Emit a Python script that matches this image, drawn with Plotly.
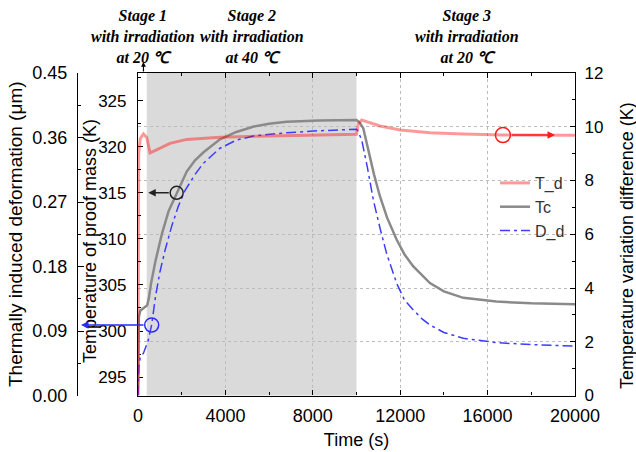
import plotly.graph_objects as go

# ---- data -------------------------------------------------------------
# T_d : temperature variation difference (K), right axis
td_time = [0, 15, 30, 100, 250, 400, 550, 800, 1200, 1465, 2230, 3750, 6000, 8000, 10000,
           10080, 10238, 10500, 11075, 12000, 13360, 14890, 16700, 20000]
td_vals = [0.0, 5.0, 9.0, 9.55, 9.73, 9.6, 9.03, 9.12, 9.28, 9.38, 9.53, 9.61, 9.66, 9.69, 9.72,
           10.1, 10.25, 10.18, 10.03, 9.88, 9.78, 9.73, 9.69, 9.68]

# Tc : temperature of proof mass (K), inner left axis
tc_time = [0, 40, 100, 250, 420, 500, 600, 800, 1100, 1400, 1770, 2230, 2600, 3000, 3750,
           4500, 5300, 6000, 6800, 8300, 10000,
           10150, 10310, 10540, 10800, 11075, 11400, 11840, 12200, 12600, 13000, 13360,
           14000, 14890, 16400, 18000, 20000]
tc_vals = [293.0, 301.5, 302.2, 302.5, 302.8, 303.6, 305.2, 307.6, 310.6, 313.0, 315.0, 317.3,
           318.5, 319.4, 320.8, 321.6, 322.2, 322.5, 322.7, 322.85, 322.9,
           322.6, 322.0, 319.6, 317.0, 314.6, 312.3, 309.9, 308.3, 307.0, 306.0, 305.2,
           304.3, 303.6, 303.2, 303.0, 302.9]

# D_d : thermally induced deformation (um), outer left axis
dd_time = [0, 40, 100, 250, 470, 627, 800, 1000, 1250, 1540, 1845, 2150, 2600, 2990, 3750,
           4515, 5280, 6800, 8330, 10000,
           10050, 10240, 10500, 10770, 11080, 11380, 11840, 12200, 12600, 13000, 13360,
           14000, 14890, 16420, 18000, 20000]
dd_vals = [0.0, 0.040, 0.053, 0.059, 0.077, 0.099, 0.138, 0.172, 0.204, 0.236, 0.264, 0.286,
           0.308, 0.324, 0.345, 0.3565, 0.362, 0.3667, 0.3695, 0.3714,
           0.370, 0.3565, 0.318, 0.273, 0.233, 0.198, 0.1565, 0.133, 0.1193, 0.107, 0.0984,
           0.088, 0.0798, 0.0737, 0.071, 0.069]

# heated (40 C) stage window, s
stage2_window = [400, 10000]
stage_texts = ["Stage 1<br>with irradiation<br>at 20 ℃",
               "Stage 2<br>with irradiation<br>at 40 ℃",
               "Stage 3<br>with irradiation<br>at 20 ℃"]

x_ticks = [0, 4000, 8000, 12000, 16000, 20000]
dd_ticks = [0.0, 0.09, 0.18, 0.27, 0.36, 0.45]

# marker circles: (time, value) on the axis each series belongs to
tc_mark = (1770, 315.0)
dd_mark = (627, 0.0984)
td_mark = (16700, 9.69)

# ---- layout geometry --------------------------------------------------
W, H = 636, 452
X0, X1 = 138 / W, 575 / W
Y0, Y1 = 1 - 395.5 / H, 1 - 73 / H

SANS = "Liberation Sans, Arial, sans-serif"
SERIF = "Liberation Serif, Times New Roman, serif"

fig = go.Figure()
fig.add_trace(go.Scatter(x=td_time, y=td_vals, name="T_d", yaxis="y3", mode="lines",
                         line=dict(color="rgba(255,0,0,0.4)", width=3)))
fig.add_trace(go.Scatter(x=tc_time, y=tc_vals, name="Tc", yaxis="y", mode="lines",
                         line=dict(color="#8a8a8a", width=2.5)))
fig.add_trace(go.Scatter(x=dd_time, y=dd_vals, name="D_d", yaxis="y2", mode="lines",
                         line=dict(color="#3c3cff", width=1.5, dash="10px,4px,3px,4px")))

axis_common = dict(showline=True, linecolor="black", linewidth=1.2, zeroline=False,
                   tickcolor="black", ticks="inside", automargin=False)

fig.update_layout(
    width=W, height=H, margin=dict(l=0, r=0, t=0, b=0, autoexpand=False),
    paper_bgcolor="white", plot_bgcolor="white",
    font=dict(family=SANS, size=18, color="black"),
    showlegend=True,
    legend=dict(x=495 / W, y=1 - 166 / H, xanchor="left", yanchor="top",
                bgcolor="rgba(0,0,0,0)", font=dict(size=16, color="#333333"),
                tracegroupgap=0),
    xaxis=dict(domain=[X0, X1], range=[0, 20000], tickvals=x_ticks, tickformat="d", ticklen=5,
               mirror="ticks", showgrid=True, gridcolor="#bcbcbc", griddash="dot",
               gridwidth=1, tickfont=dict(size=18), ticklabelstandoff=4,
               minor=dict(dtick=2000, tick0=0, ticks="inside", ticklen=3,
                          tickcolor="black", showgrid=False),
               title=dict(text="Time (s)", font=dict(size=18), standoff=8),
               **axis_common),
    yaxis=dict(domain=[Y0, Y1], range=[293, 328], dtick=5, tick0=0, ticklen=5,
               side="left", showgrid=False, tickfont=dict(size=17), ticklabelstandoff=7,
               layer="below traces",
               minor=dict(dtick=2.5, tick0=0, ticks="inside", ticklen=3, tickcolor="black"),
               **axis_common),
    yaxis2=dict(overlaying="y", anchor="free", position=77 / W, side="left",
                range=[0, 0.45], tickvals=dd_ticks, tickformat=".2f", ticklen=6,
                showgrid=False, tickfont=dict(size=18), ticklabelstandoff=6,
                minor=dict(dtick=0.045, tick0=0, ticks="inside", ticklen=3, tickcolor="black"),
                title=dict(text="Thermally induced deformation (μm)", font=dict(size=19),
                           standoff=3),
                **axis_common),
    yaxis3=dict(overlaying="y", anchor="x", side="right", range=[0, 12], dtick=2, tick0=0,
                ticklen=5, showgrid=True, gridcolor="#bcbcbc", griddash="dot", gridwidth=1,
                tickfont=dict(size=17), ticklabelstandoff=5,
                minor=dict(dtick=1, tick0=0, ticks="inside", ticklen=3, tickcolor="black",
                           showgrid=False),
                **axis_common),
)

# shaded 40 C stage
fig.add_shape(type="rect", xref="x", yref="y domain", x0=stage2_window[0], x1=stage2_window[1],
              y0=0, y1=1, fillcolor="#dadada", line=dict(width=0), layer="below")

# axis titles placed by hand (the inner one sits over its own tick labels)
fig.add_annotation(text="Temperature of proof mass (K)", textangle=-90, xref="paper", yref="paper",
                   x=90 / W, y=1 - 241 / H, showarrow=False, font=dict(size=18),
                   xanchor="center", yanchor="middle")
fig.add_annotation(text="Temperature variation difference (K)", textangle=-90,
                   xref="paper", yref="paper", x=627 / W, y=1 - 246 / H, showarrow=False,
                   font=dict(size=18), xanchor="center", yanchor="middle")

# stage captions
for txt, xp in zip(stage_texts, [143, 252, 466.7]):
    fig.add_annotation(text="<b><i>" + txt + "</i></b>", xref="paper", yref="paper",
                       x=xp / W, y=1 - 36.5 / H, showarrow=False, align="center",
                       font=dict(family=SERIF, size=16, color="black"),
                       xanchor="center", yanchor="middle")

# small arrow marking the start of stage 1
fig.add_annotation(text="", xref="x", yref="paper", x=250, y=1 - 62 / H, ax=0, ay=11,
                   showarrow=True, arrowhead=2, arrowsize=0.8, arrowwidth=1.2,
                   arrowcolor="black")

# circles identifying each curve's axis
def circle(xa, ya, yref, r, color):
    fig.add_shape(type="circle", xref="x", yref=yref, xsizemode="pixel", ysizemode="pixel",
                  xanchor=xa, yanchor=ya, x0=-r, x1=r, y0=-r, y1=r,
                  line=dict(color=color, width=1.5), fillcolor="rgba(0,0,0,0)", layer="above")

circle(tc_mark[0], tc_mark[1], "y", 6.5, "#222222")
circle(dd_mark[0], dd_mark[1], "y2", 7, "#2a2aff")
circle(td_mark[0], td_mark[1], "y3", 7.5, "#ff1a1a")

# arrows pointing to the matching axes
fig.add_annotation(text="", xref="x", yref="y", x=470, y=tc_mark[1], ax=22, ay=0,
                   showarrow=True, arrowhead=2, arrowsize=1, arrowwidth=1.5,
                   arrowcolor="#222222")
fig.add_annotation(text="", xref="paper", yref="y2", x=81 / W, y=dd_mark[1], ax=64, ay=0,
                   showarrow=True, arrowhead=2, arrowsize=1, arrowwidth=1.5,
                   arrowcolor="#2a2aff")
fig.add_annotation(text="", xref="x", yref="y3", x=19085, y=td_mark[1], ax=-44.5, ay=0,
                   showarrow=True, arrowhead=2, arrowsize=1, arrowwidth=1.5,
                   arrowcolor="#ff1a1a")

fig.write_html("out.html")
